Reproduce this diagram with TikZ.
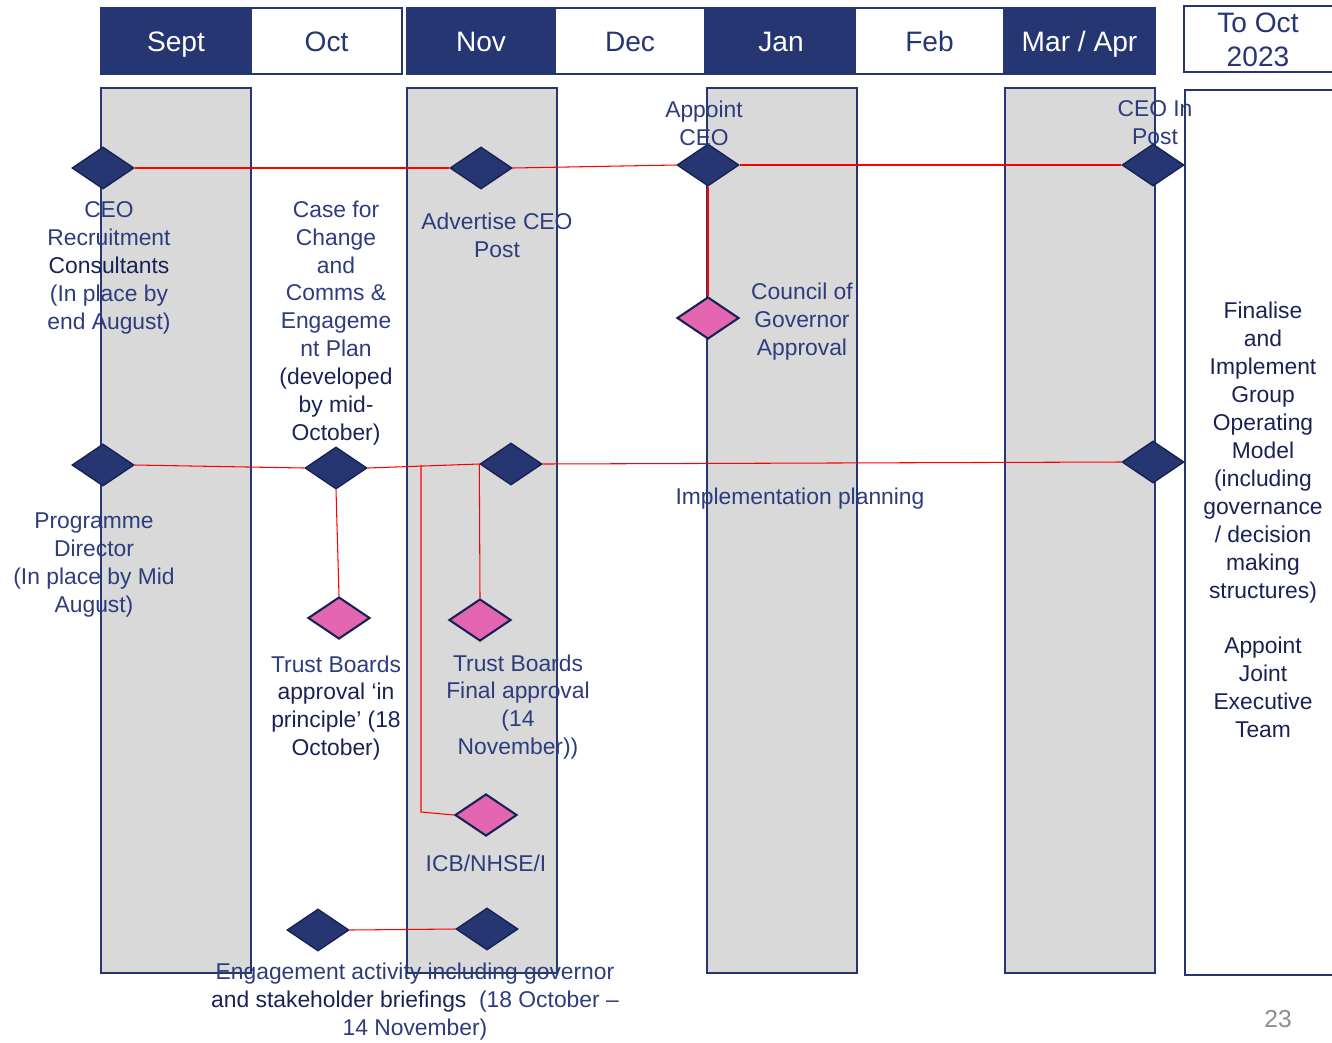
\documentclass[tikz,border=0pt]{standalone}
\usepackage{fontspec}
\setmainfont{Liberation Sans}
\usepackage{tikz}
\usetikzlibrary{shapes.geometric}
\definecolor{navy}{RGB}{37,54,115}
\definecolor{txtblue}{RGB}{45,60,125}
\definecolor{dkblue}{RGB}{24,34,84}
\definecolor{colgray}{RGB}{217,217,217}
\definecolor{pinkfill}{RGB}{228,102,176}
\definecolor{pagegray}{RGB}{140,140,140}

\begin{document}
\begin{tikzpicture}[x=0.02cm,y=-0.02cm,
  hdr/.style={rectangle,draw=navy,line width=1.2pt,minimum height=1.32cm,inner sep=0pt,text height=13.2pt,text depth=1.7pt,font=\fontsize{16}{19}\selectfont},
  hdrdark/.style={hdr,fill=navy,text=white},
  hdrlight/.style={hdr,fill=white,text=navy},
  colbox/.style={draw=navy,line width=1.2pt,fill=colgray},
  ms/.style={diamond,draw=dkblue,fill=navy,line width=0.8pt,minimum width=1.24cm,minimum height=0.84cm,inner sep=0pt},
  pk/.style={ms,fill=pinkfill,line width=1.2pt},
  link/.style={red,line width=0.6pt},
  lbl/.style={text=txtblue,align=center,inner sep=0pt,font=\fontsize{13}{15.9}\selectfont}]
\useasboundingbox (0,0) rectangle (1332,1042);

\draw[colbox] (101,88) rectangle (251,973);
\draw[colbox] (407,88) rectangle (557,973);
\draw[colbox] (707,88) rectangle (857,973);
\draw[colbox] (1005,88) rectangle (1155,973);
\draw[navy,line width=1.2pt] (1336,90) -- (1185,90) -- (1185,975) -- (1336,975);

\node[hdrdark,minimum width=3cm] (sept) at (176,41) {Sept};
\node[hdrlight,minimum width=3.02cm] (oct) at (326.5,41) {Oct};
\node[hdrdark,minimum width=2.96cm] (nov) at (481,41) {Nov};
\node[hdrlight,minimum width=3cm] (dec) at (630,41) {Dec};
\node[hdrdark,minimum width=2.96cm] (jan) at (781,41) {Jan};
\node[hdrlight,minimum width=2.98cm] (feb) at (929.5,41) {Feb};
\node[hdrdark,minimum width=3.02cm] (marapr) at (1079.5,41) {Mar / Apr};
\draw[navy,line width=1.2pt] (1336,6) -- (1184,6) -- (1184,72) -- (1336,72);
\node[text=navy,align=center,font=\fontsize{16}{19}\selectfont] (tooct) at (1258,40) {To Oct\\2023};

\coordinate (jn) at (421,465);
\node[ms] (d1) at (103,168) {};
\node[ms] (d2) at (481,168) {};
\node[ms] (d3) at (708,165) {};
\node[ms] (d4) at (1153,165) {};
\node[pk] (p1) at (708,318) {};
\node[ms] (e1) at (103,465) {};
\node[ms] (e2) at (336,468) {};
\node[ms] (e3) at (511,464) {};
\node[ms] (e4) at (1153,462) {};
\node[pk] (p2) at (339,618) {};
\node[pk] (p3) at (480,620) {};
\node[pk] (p4) at (486,815) {};
\node[ms] (f1) at (318,930) {};
\node[ms] (f2) at (487,929) {};

\draw[link] (d1.east) -- (d2.west);
\draw[link] (d2.east) -- (d3.west);
\draw[link] (d3.east) -- (d4.west);
\draw[link] (d3.south) -- (p1.north);
\draw[link] (e1.east) -- (e2.west);
\draw[link] (e2.east) -- (e3.west);
\draw[link] (e3.east) -- (e4.west);
\draw[link] (e2.south) -- (p2.north);
\draw[link] (e3.west) -- (p3.north);
\draw[link] (jn) -- (421,812) -- (p4.west);
\draw[link] (f1.east) -- (f2.west);

\node[lbl] (recruit) at (109,268) {CEO\\Recruitment\\\textcolor{dkblue}{Consultants}\\(In place by\\end August)};
\node[lbl] (casechange) at (336,323) {Case for\\Change\\and\\Comms \&\\Engageme\\nt Plan\\\textcolor{dkblue}{(developed}\\\textcolor{dkblue}{by mid-}\\\textcolor{dkblue}{October)}};
\node[lbl] (advert) at (497,235) {Advertise CEO\\Post};
\node[lbl] (appoint) at (704,123) {Appoint\\CEO};
\node[lbl] (inpost) at (1155,123) {CEO In\\Post};
\node[lbl] (council) at (802,322) {Council of\\Governor\\Approval};
\node[lbl] (impl) at (800,499) {Implementation planning};
\node[lbl] (progdir) at (94,565) {Programme\\Director\\(In place by Mid\\August)};
\node[lbl] (trustone) at (336,708) {Trust Boards\\\textcolor{dkblue}{approval ‘in}\\\textcolor{dkblue}{principle’ (18}\\\textcolor{dkblue}{October)}};
\node[lbl] (trusttwo) at (518,707) {Trust Boards\\Final approval\\(14\\November))};
\node[lbl] (icb) at (486,863) {ICB/NHSE/I};
\node[lbl] (engage) at (415,1002) {Engagement activity including governor\\\textcolor{dkblue}{and stakeholder briefings}\ \ (18 October –\\14 November)};
\node[lbl,text=dkblue] (finalise) at (1263,520) {Finalise\\and\\Implement\\Group\\Operating\\Model\\(including\\governance\\/ decision\\making\\structures)\\[15.9pt]Appoint\\Joint\\Executive\\Team};
\node[text=pagegray,font=\fontsize{14}{17}\selectfont] (pagenum) at (1278,1019) {23};
\end{tikzpicture}
\end{document}
